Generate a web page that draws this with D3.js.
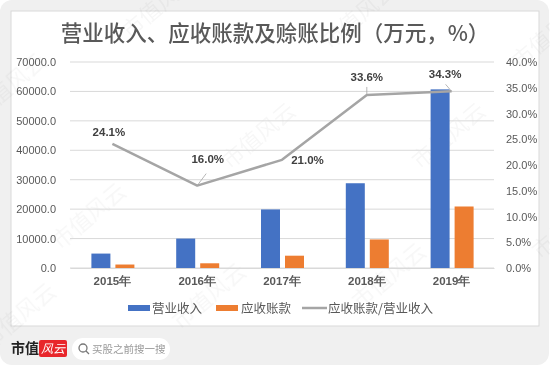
<!DOCTYPE html>
<html>
<head>
<meta charset="utf-8">
<script src="https://cdn.jsdelivr.net/npm/d3@7"></script>
<style>
  body { margin: 0; background: #fff; }
  svg { display: block; font-family: "Noto Sans CJK SC", "Noto Sans", sans-serif; }
</style>
</head>
<body>
<script>
var years = ["2015年", "2016年", "2017年", "2018年", "2019年"];
var revenue = [4900, 10000, 19900, 28800, 60700];
var receivables = [1180, 1600, 4180, 9700, 20900];
var ratio = [24.1, 16.0, 21.0, 33.6, 34.3];
var leftTicks = [0, 10000, 20000, 30000, 40000, 50000, 60000, 70000];
var rightTicks = [0, 5, 10, 15, 20, 25, 30, 35, 40];

var w = 550, h = 365;
var svg = d3.select("body").append("svg")
    .attr("width", w)
    .attr("height", h);

// outer grey panel + white card
svg.append("rect").attr("x", 0).attr("y", 0).attr("width", 549).attr("height", 365)
    .attr("rx", 12).attr("fill", "#f0f0f0");
svg.append("rect").attr("x", 11).attr("y", 11).attr("width", 528).attr("height", 315)
    .attr("fill", "#fff").attr("stroke", "#d9d9d9");

// watermark
var wm = svg.append("g").attr("fill", "#000").attr("opacity", 0.035)
    .attr("font-size", 22);
[[-20, 120], [130, 40], [330, 50], [520, 70], [60, 250], [230, 170], [420, 170],
 [180, 330], [360, 310], [-10, 350], [540, 260]].forEach(function (p) {
    wm.append("text").attr("transform", "translate(" + p[0] + "," + p[1] + ") rotate(-40)")
        .text("市值风云");
});

svg.append("text")
    .attr("x", 275).attr("y", 41)
    .attr("text-anchor", "middle")
    .attr("font-size", 21.5)
    .attr("font-weight", 500)
    .attr("fill", "#595959")
    .text("营业收入、应收账款及赊账比例（万元，%）");

var pLeft = 70, pRight = 494, pTop = 62, pBottom = 268;

var x = d3.scaleBand().domain(years).range([pLeft, pRight]);
var yL = d3.scaleLinear().domain([0, 70000]).range([pBottom, pTop]);
var yR = d3.scaleLinear().domain([0, 40]).range([pBottom, pTop]);

// gridlines
svg.append("g").selectAll("line").data(leftTicks).enter().append("line")
    .attr("x1", pLeft).attr("x2", pRight)
    .attr("y1", function (d) { return yL(d); })
    .attr("y2", function (d) { return yL(d); })
    .attr("stroke", "#d9d9d9").attr("stroke-width", 1);

var leftAxis = svg.append("g")
    .attr("transform", "translate(" + (pLeft - 11) + ",0)")
    .call(d3.axisLeft(yL).tickValues(leftTicks).tickSize(0).tickFormat(d3.format(".1f")));
leftAxis.select(".domain").remove();
leftAxis.selectAll("text").attr("font-size", 11).attr("fill", "#595959")
    .attr("font-family", "Liberation Sans, sans-serif");

var rightAxis = svg.append("g")
    .attr("transform", "translate(" + (pRight + 9) + ",0)")
    .call(d3.axisRight(yR).tickValues(rightTicks).tickSize(0)
        .tickFormat(function (d) { return d.toFixed(1) + "%"; }));
rightAxis.select(".domain").remove();
rightAxis.selectAll("text").attr("font-size", 11).attr("fill", "#595959")
    .attr("font-family", "Liberation Sans, sans-serif");

var bottomAxis = svg.append("g")
    .attr("transform", "translate(0," + pBottom + ")")
    .call(d3.axisBottom(x).tickSize(0).tickPadding(9));
bottomAxis.select(".domain").attr("stroke", "#d9d9d9");
bottomAxis.selectAll("text").attr("font-size", 11.5).attr("font-weight", "bold").attr("fill", "#595959");

var bw = 19;
svg.append("g").selectAll("rect").data(revenue).enter().append("rect")
    .attr("x", function (d, i) { return x(years[i]) + x.bandwidth() / 2 - bw - 2; })
    .attr("y", function (d) { return yL(d); })
    .attr("width", bw)
    .attr("height", function (d) { return pBottom - yL(d); })
    .attr("fill", "#4472c4");

svg.append("g").selectAll("rect").data(receivables).enter().append("rect")
    .attr("x", function (d, i) { return x(years[i]) + x.bandwidth() / 2 + 3; })
    .attr("y", function (d) { return yL(d); })
    .attr("width", bw)
    .attr("height", function (d) { return pBottom - yL(d); })
    .attr("fill", "#ed7d31");

var cx = function (i) { return x(years[i]) + x.bandwidth() / 2; };

svg.append("path")
    .datum(ratio)
    .attr("fill", "none")
    .attr("stroke", "#a5a5a5")
    .attr("stroke-width", 2.5)
    .attr("stroke-linejoin", "round")
    .attr("d", d3.line()
        .x(function (d, i) { return cx(i); })
        .y(function (d) { return yR(d); }));

// data labels: offsets relative to point
var labelOff = [[-3.5, -8], [10.5, -22.5], [25.5, 4], [0, -14], [-6.5, -13]];
var leaders = [null, [[0, 0], [9, -12]], null, [[0, -1], [0, -8]], [[0, 0], [-6, -7]]];
leaders.forEach(function (l, i) {
    if (!l) return;
    svg.append("line")
        .attr("x1", cx(i) + l[0][0]).attr("y1", yR(ratio[i]) + l[0][1])
        .attr("x2", cx(i) + l[1][0]).attr("y2", yR(ratio[i]) + l[1][1])
        .attr("stroke", "#a5a5a5").attr("stroke-width", 0.8);
});
svg.append("g").selectAll("text").data(ratio).enter().append("text")
    .attr("x", function (d, i) { return cx(i) + labelOff[i][0]; })
    .attr("y", function (d, i) { return yR(d) + labelOff[i][1]; })
    .attr("text-anchor", "middle")
    .attr("font-size", 11.5)
    .attr("font-weight", "bold")
    .attr("fill", "#404040")
    .attr("font-family", "Liberation Sans, sans-serif")
    .text(function (d) { return d.toFixed(1) + "%"; });

// legend
var lg = svg.append("g").attr("font-size", 12.5).attr("fill", "#595959");
lg.append("rect").attr("x", 128).attr("y", 305).attr("width", 22).attr("height", 6).attr("fill", "#4472c4");
lg.append("text").attr("x", 152).attr("y", 312.5).attr("fill", "#595959").text("营业收入");
lg.append("rect").attr("x", 216).attr("y", 305).attr("width", 22).attr("height", 6).attr("fill", "#ed7d31");
lg.append("text").attr("x", 241).attr("y", 312.5).attr("fill", "#595959").text("应收账款");
lg.append("line").attr("x1", 302).attr("x2", 327).attr("y1", 308).attr("y2", 308)
    .attr("stroke", "#a5a5a5").attr("stroke-width", 2.5);
lg.append("text").attr("x", 328).attr("y", 312.5).attr("fill", "#595959").text("应收账款/营业收入");

// footer brand + search pill
svg.append("text").attr("x", 11).attr("y", 353).attr("font-size", 14).attr("font-weight", "bold")
    .attr("fill", "#222").text("市值");
svg.append("rect").attr("x", 39).attr("y", 340).attr("width", 28).attr("height", 17).attr("rx", 2)
    .attr("fill", "#e8262b");
svg.append("text").attr("x", 53).attr("y", 353).attr("text-anchor", "middle").attr("font-size", 12)
    .attr("font-style", "italic").attr("fill", "#fff").text("风云");
svg.append("rect").attr("x", 72).attr("y", 338).attr("width", 98).attr("height", 22).attr("rx", 11)
    .attr("fill", "#fff");
svg.append("circle").attr("cx", 83).attr("cy", 348).attr("r", 4).attr("fill", "none")
    .attr("stroke", "#777").attr("stroke-width", 1.3);
svg.append("line").attr("x1", 86).attr("y1", 351).attr("x2", 89).attr("y2", 354)
    .attr("stroke", "#777").attr("stroke-width", 1.3);
svg.append("text").attr("x", 92).attr("y", 353).attr("font-size", 10.5).attr("fill", "#999")
    .text("买股之前搜一搜");
</script>
</body>
</html>
